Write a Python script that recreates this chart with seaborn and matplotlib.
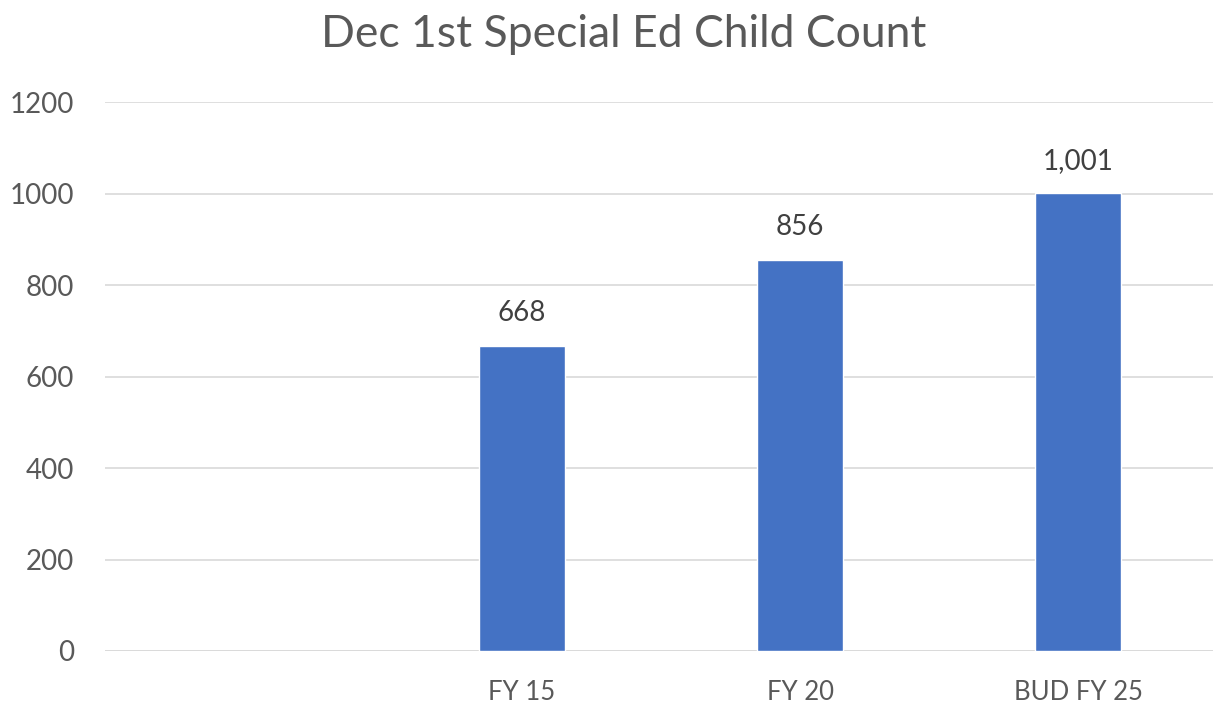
import matplotlib
matplotlib.use("Agg")
import matplotlib.pyplot as plt
import seaborn as sns
import pandas as pd

categories = ["", "FY 15", "FY 20", "BUD FY 25"]
bar_categories = ["FY 15", "FY 20", "BUD FY 25"]
values = [668, 856, 1001]
value_labels = ["668", "856", "1,001"]
yticks = [0, 200, 400, 600, 800, 1000, 1200]

sns.set_theme(style="white")
plt.rcParams["font.family"] = ["Lato", "DejaVu Sans"]

df = pd.DataFrame({"cat": bar_categories, "val": values})

fig = plt.figure(figsize=(12.13, 7.06), dpi=100)
ax = fig.add_axes([0.0865, 0.078, 0.917, 0.777])
sns.barplot(data=df, x="cat", y="val", order=categories, color="#4472C4",
            saturation=1, width=0.31, ax=ax)

ax.set_ylim(0, 1200)
ax.set_xlim(-0.5, 3.5)
ax.set_yticks(yticks)
ax.set_yticklabels([str(t) for t in yticks])
ax.yaxis.grid(True, color="#D9D9D9", linewidth=1.2)
ax.set_axisbelow(True)
for s in ax.spines.values():
    s.set_visible(False)
ax.axhline(0, color="#D9D9D9", linewidth=1.2, zorder=0)
ax.tick_params(axis="both", length=0, colors="#595959")
ax.tick_params(axis="x", pad=21, labelsize=18.5)
ax.tick_params(axis="y", pad=22, labelsize=20)
ax.set_xlabel("")
ax.set_ylabel("")

for cont in ax.containers:
    ax.bar_label(cont, labels=value_labels, padding=14, fontsize=20, color="#404040")

fig.suptitle("Dec 1st Special Ed Child Count", x=0.514, y=0.98, fontsize=32, color="#595959")

fig.savefig("out.png", dpi=100)
